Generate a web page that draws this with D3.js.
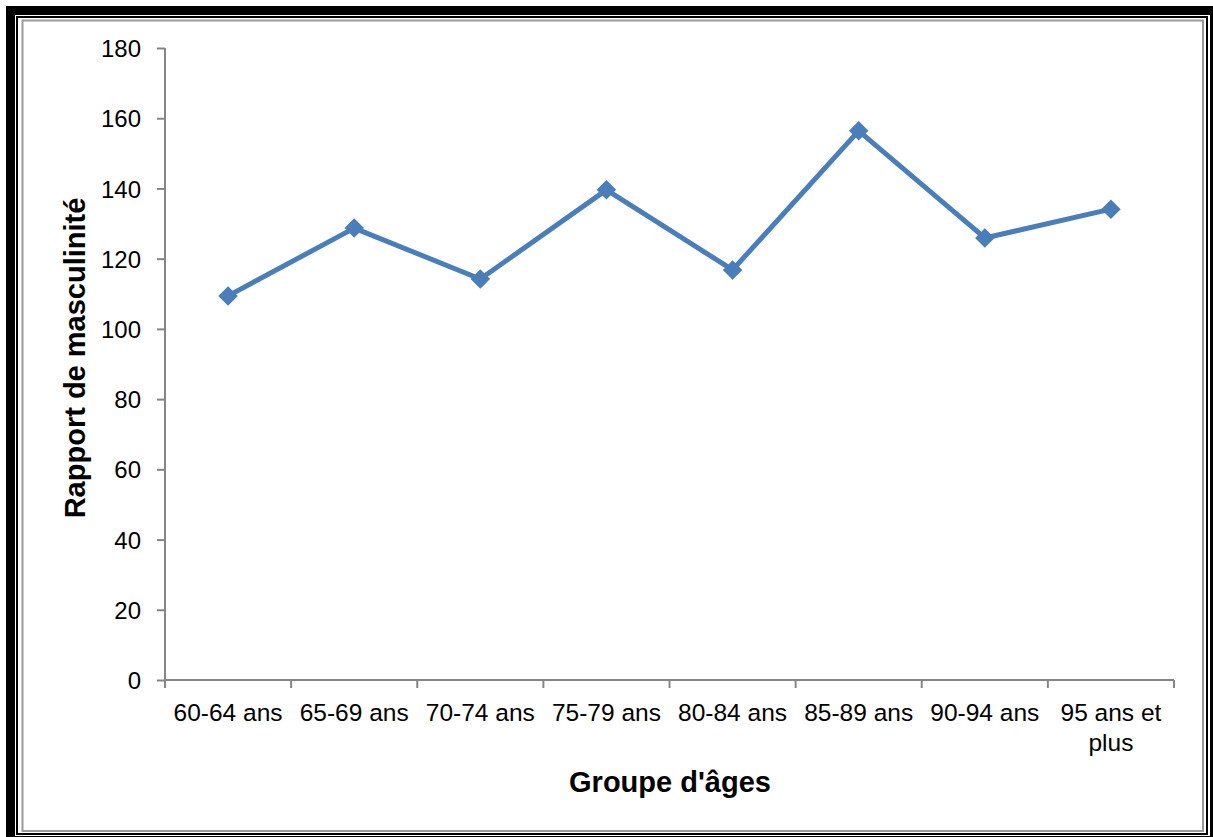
<!DOCTYPE html>
<html>
<head>
<meta charset="utf-8">
<script src="https://cdn.jsdelivr.net/npm/d3@7"></script>
<style>
  body { margin: 0; background: #fff; }
  text { font-family: "Liberation Sans", Arial, sans-serif; }
</style>
</head>
<body>
<div id="container"></div>
<script>
const categories = ["60-64 ans", "65-69 ans", "70-74 ans", "75-79 ans", "80-84 ans", "85-89 ans", "90-94 ans", "95 ans et plus"];
const values = [109.4, 128.7, 114.2, 139.6, 116.8, 156.4, 125.9, 134.1];
const yTicks = [0, 20, 40, 60, 80, 100, 120, 140, 160, 180];

const W = 1213, H = 837;
const plotL = 165, plotR = 1174, plotT = 48, plotB = 680;
const lineColor = "#4a7ebb";
const axisColor = "#868686";

const svg = d3.select("#container").append("svg")
  .attr("width", W).attr("height", H);

// frame: thick black, thin black, gray chart border
svg.append("rect").attr("x", 6).attr("y", 6).attr("width", W - 6).attr("height", H - 6).attr("fill", "#000");
svg.append("rect").attr("x", 15).attr("y", 15).attr("width", 1195).attr("height", 821).attr("fill", "#fff");
svg.append("rect").attr("x", 17).attr("y", 17).attr("width", 1190).attr("height", 817)
  .attr("fill", "none").attr("stroke", "#000").attr("stroke-width", 2);
svg.append("rect").attr("x", 22.5).attr("y", 20.5).attr("width", 1180.5).attr("height", 810.5)
  .attr("fill", "#fff").attr("stroke", "#999").attr("stroke-width", 2);

const x = d3.scaleBand().domain(categories).range([plotL, plotR]);
const y = d3.scaleLinear().domain([0, 180]).range([plotB, plotT]);

// y axis
const yAxis = svg.append("g")
  .attr("transform", "translate(" + plotL + ",0)")
  .call(d3.axisLeft(y).tickValues(yTicks).tickSize(8).tickPadding(16));
yAxis.attr("font-size", null).attr("font-family", null);
yAxis.select(".domain").attr("stroke", axisColor).attr("stroke-width", 2).attr("d", "M0," + plotT + "V" + plotB);
yAxis.selectAll(".tick line").attr("stroke", axisColor).attr("stroke-width", 2);
yAxis.selectAll(".tick text").attr("font-size", 24).attr("fill", "#000").attr("dy", "0.36em");

// x axis: ticks at category boundaries
const xg = svg.append("g").attr("transform", "translate(0," + plotB + ")");
xg.append("line").attr("x1", plotL).attr("x2", plotR).attr("stroke", axisColor).attr("stroke-width", 2);
const bounds = categories.map(c => x(c)).concat([plotR]);
xg.selectAll(".tk").data(bounds).enter().append("line")
  .attr("x1", d => d).attr("x2", d => d).attr("y1", 0).attr("y2", 8)
  .attr("stroke", axisColor).attr("stroke-width", 2);

const labels = xg.selectAll(".lab").data(categories).enter().append("text")
  .attr("x", d => x(d) + x.bandwidth() / 2)
  .attr("y", 41)
  .attr("text-anchor", "middle")
  .attr("font-size", 24.5)
  .attr("fill", "#000");
labels.each(function(d) {
  const t = d3.select(this);
  if (d === "95 ans et plus") {
    t.append("tspan").attr("x", x(d) + x.bandwidth() / 2).text("95 ans et");
    t.append("tspan").attr("x", x(d) + x.bandwidth() / 2).attr("dy", 30).text("plus");
  } else {
    t.text(d);
  }
});

// titles
svg.append("text").attr("x", 670).attr("y", 792).attr("text-anchor", "middle")
  .attr("font-size", 29).attr("font-weight", "bold").text("Groupe d'âges");
svg.append("text").attr("transform", "translate(85,358) rotate(-90)").attr("text-anchor", "middle")
  .attr("font-size", 29).attr("font-weight", "bold").text("Rapport de masculinité");

// series
const pts = categories.map((c, i) => [x(c) + x.bandwidth() / 2, y(values[i])]);
svg.append("path").attr("d", d3.line()(pts))
  .attr("fill", "none").attr("stroke", lineColor).attr("stroke-width", 5).attr("stroke-linejoin", "round");
svg.selectAll(".mk").data(pts).enter().append("path")
  .attr("d", d3.symbol(d3.symbolSquare, 190)())
  .attr("transform", d => "translate(" + d[0] + "," + d[1] + ") rotate(45)")
  .attr("fill", lineColor);
</script>
</body>
</html>
